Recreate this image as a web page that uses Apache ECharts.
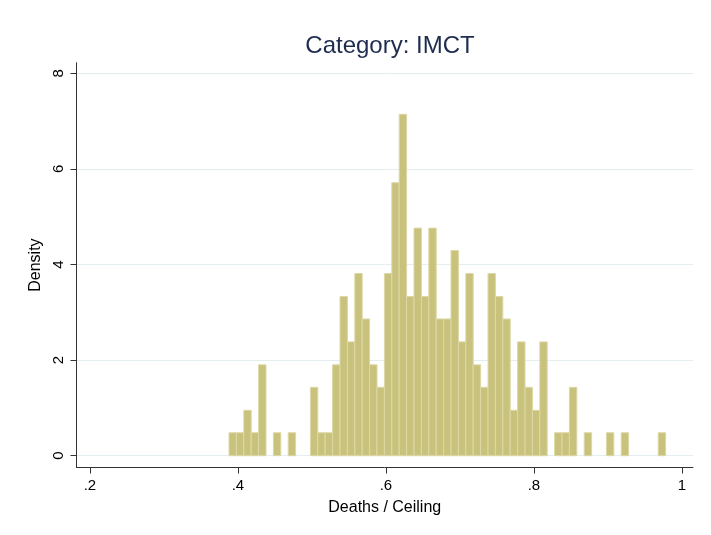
<!DOCTYPE html>
<html>
<head>
<meta charset="utf-8">
<title>Category: IMCT</title>
<script src="https://cdn.jsdelivr.net/npm/echarts@6/dist/echarts.min.js"></script>
<style>
  html, body { margin: 0; padding: 0; background: #fff; }
  #chart { width: 711px; height: 535px; }
</style>
</head>
<body>
<div id="chart"></div>
<script>
// histogram bins (width .01), left edge of first bin
const binStart = 0.388;
const binWidth = 0.01;
// density of each bin
const density = [
  0.48, 0.48, 0.95, 0.48, 1.90, 0, 0.48, 0, 0.48, 0, 0,
  1.43, 0.48, 0.48, 1.90, 3.33, 2.38, 3.81, 2.86, 1.90, 1.43,
  3.81, 5.71, 7.14, 3.33, 4.76, 3.33, 4.76, 2.86, 2.86, 4.29,
  2.38, 3.81, 1.90, 1.43, 3.81, 3.33, 2.86, 0.95, 2.38, 1.43,
  0.95, 2.38, 0, 0.48, 0.48, 1.43, 0, 0.48, 0, 0,
  0.48, 0, 0.48, 0, 0, 0, 0, 0.48
];
const xTicks = [0.2, 0.4, 0.6, 0.8, 1];
const yTicks = [0, 2, 4, 6, 8];

// build [left, right, height] for each bin
const bins = [];
density.forEach(function (d, i) {
  if (d > 0) {
    const left = binStart + i * binWidth;
    bins.push([left, left + binWidth, d]);
  }
});

const font = '"Liberation Sans", Arial, Helvetica, sans-serif';

var myChart = echarts.init(document.getElementById('chart'));
myChart.setOption({
  animation: false,
  backgroundColor: '#ffffff',
  title: {
    text: 'Category: IMCT',
    left: 385,
    textAlign: 'center',
    top: 29,
    textStyle: { color: '#1e2c4f', fontSize: 24, fontWeight: 'normal', fontFamily: font }
  },
  grid: { left: 76.5, right: 18, top: 62.7, bottom: 67.5 },
  xAxis: {
    type: 'value',
    min: 0.1819,
    max: 1.015,
    name: 'Deaths / Ceiling',
    nameLocation: 'middle',
    nameGap: 32,
    nameTextStyle: { color: '#000', fontSize: 16, fontFamily: font },
    axisLine: { show: true, onZero: false, lineStyle: { color: '#333', width: 1 } },
    axisTick: { show: true, length: 6, customValues: xTicks, lineStyle: { color: '#333' } },
    axisLabel: {
      customValues: xTicks,
      margin: 11,
      color: '#000',
      fontSize: 15,
      fontFamily: font,
      formatter: function (v) { return v === 1 ? '1' : String(v).replace(/^0/, ''); }
    },
    splitLine: { show: false }
  },
  yAxis: {
    type: 'value',
    min: -0.247,
    max: 8.22,
    name: 'Density',
    nameLocation: 'middle',
    nameRotate: 90,
    nameGap: 31,
    nameTextStyle: { color: '#000', fontSize: 16, fontFamily: font },
    axisLine: { show: true, onZero: false, lineStyle: { color: '#333', width: 1 } },
    axisTick: { show: true, length: 6, customValues: yTicks, lineStyle: { color: '#333' } },
    axisLabel: {
      customValues: yTicks,
      rotate: 90,
      margin: 10,
      color: '#000',
      fontSize: 15,
      fontFamily: font
    },
    splitLine: { show: true, lineStyle: { color: '#e4edf0', width: 1 } }
  },
  series: [
    {
      type: 'custom',
      data: bins,
      encode: { x: [0, 1], y: 2 },
      renderItem: function (params, api) {
        const top = api.coord([api.value(0), api.value(2)]);
        const bottom = api.coord([api.value(1), 0]);
        return {
          type: 'rect',
          shape: { x: top[0], y: top[1], width: bottom[0] - top[0], height: bottom[1] - top[1] },
          style: { fill: '#c9c27d', stroke: '#dcd8a6', lineWidth: 1 }
        };
      }
    }
  ]
});
</script>
</body>
</html>
